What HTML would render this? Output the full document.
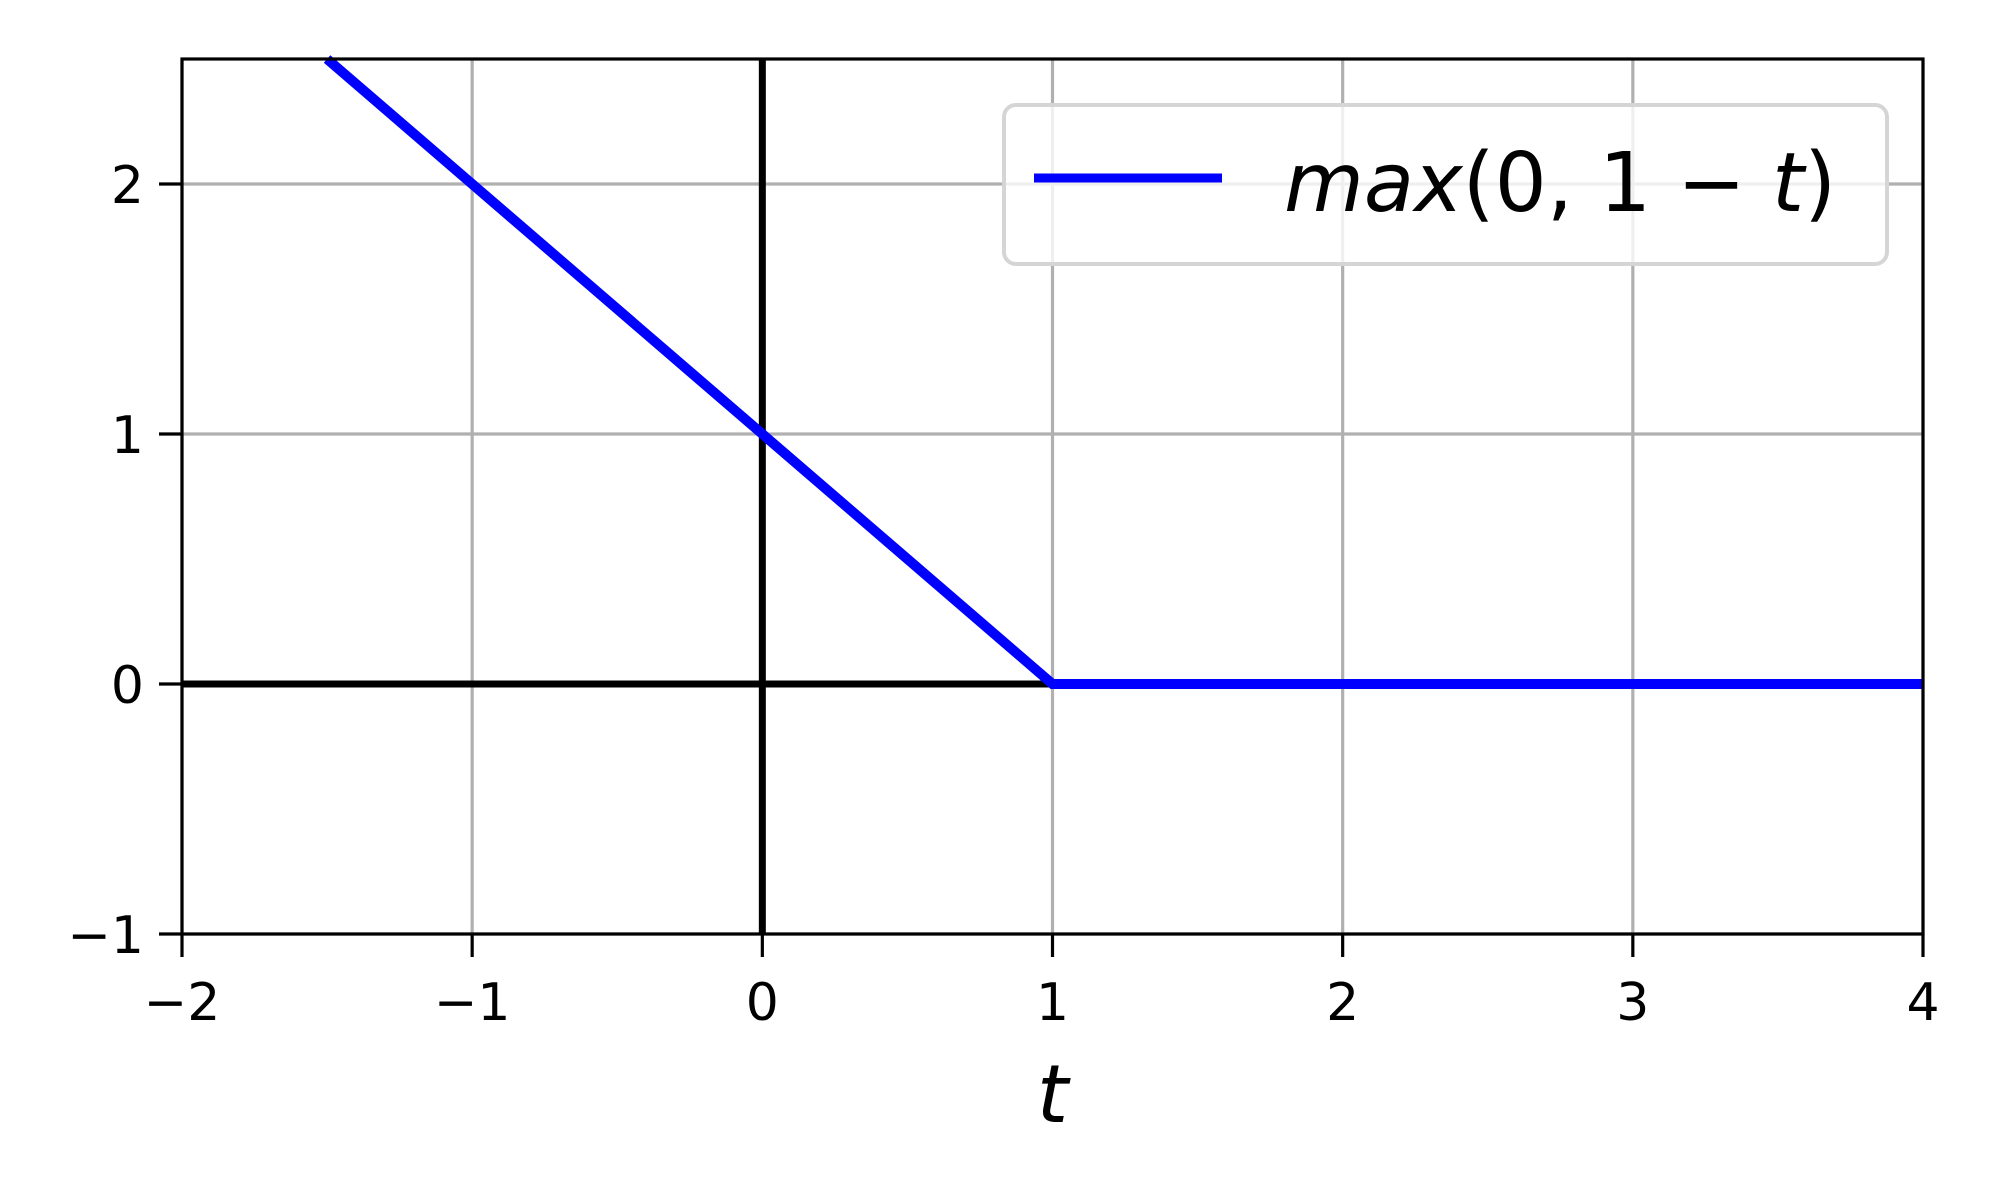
<!DOCTYPE html>
<html><head><meta charset="utf-8"><style>
html,body{margin:0;padding:0;background:#fff;}
svg{display:block;font-family:"DejaVu Sans","Liberation Sans",sans-serif;}
</style></head><body>
<svg id="chart" width="2000" height="1200" viewBox="0 0 2000 1200" xmlns="http://www.w3.org/2000/svg"></svg>
<script>
const xTicks = [-2, -1, 0, 1, 2, 3, 4];
const xTickLabels = ["\u22122", "\u22121", "0", "1", "2", "3", "4"];
const yTicks = [-1, 0, 1, 2];
const yTickLabels = ["\u22121", "0", "1", "2"];
const lineT = [-1.5, 1, 4];
const lineY = [2.5, 0, 0];
const xMin = -2, xMax = 4, yMin = -1, yMax = 2.5;

const L = 182, R = 1923, T = 59, B = 934;
function sx(v){ return L + (v - xMin) / (xMax - xMin) * (R - L); }
function sy(v){ return B - (v - yMin) / (yMax - yMin) * (B - T); }
const svg = document.getElementById('chart');
const NS = 'http://www.w3.org/2000/svg';
function mk(tag, attrs, parent){
  const e = document.createElementNS(NS, tag);
  for (const k in attrs) e.setAttribute(k, attrs[k]);
  (parent || svg).appendChild(e);
  return e;
}
const grid = mk('g', {});


xTicks.forEach(v => {
  const l = mk('line', {x1: sx(v), x2: sx(v), y1: T, y2: B, stroke: '#b0b0b0', 'stroke-width': 3.2}, grid);
  
  
});
yTicks.forEach(v => {
  const l = mk('line', {x1: L, x2: R, y1: sy(v), y2: sy(v), stroke: '#b0b0b0', 'stroke-width': 3.2}, grid);
  
  
});
const ax = mk('line', {x1: L, x2: R, y1: sy(0), y2: sy(0), stroke: '#000', 'stroke-width': 7});


const ay = mk('line', {x1: sx(0), x2: sx(0), y1: T, y2: B, stroke: '#000', 'stroke-width': 7});


const pts = lineT.map((t, i) => sx(t) + ',' + sy(lineY[i])).join(' ');
const pl = mk('polyline', {points: pts, fill: 'none', stroke: '#0000ff', 'stroke-width': 10});


const sp = mk('rect', {x: L, y: T, width: R - L, height: B - T, fill: 'none', stroke: '#000', 'stroke-width': 3.2});


xTicks.forEach((v, i) => {
  const tk = mk('line', {x1: sx(v), x2: sx(v), y1: B, y2: B + 23, stroke: '#000', 'stroke-width': 3.2});
  
  
  const tx = mk('text', {x: sx(v), y: 1020, 'text-anchor': 'middle', 'font-size': 52});
  tx.textContent = xTickLabels[i];
  
  
});
yTicks.forEach((v, i) => {
  const tk = mk('line', {x1: L - 23, x2: L, y1: sy(v), y2: sy(v), stroke: '#000', 'stroke-width': 3.2});
  
  
  const tx = mk('text', {x: L - 38, y: sy(v) + 19, 'text-anchor': 'end', 'font-size': 52});
  tx.textContent = yTickLabels[i];
  
  
});
const xl = mk('text', {x: sx(1), y: 1122, 'text-anchor': 'middle', 'font-size': 80, 'font-style': 'italic'});
xl.textContent = 't';


const lg = mk('g', {});


mk('rect', {x: 1004, y: 105, width: 883, height: 159, rx: 12, fill: 'rgba(255,255,255,0.8)', stroke: '#d5d5d5', 'stroke-width': 4}, lg);
const ll = mk('line', {x1: 1034, x2: 1222, y1: 178, y2: 178, stroke: '#0000ff', 'stroke-width': 9}, lg);


const lt = mk('text', {x: 1284, y: 211, 'font-size': 82}, lg);


lt.innerHTML = '<tspan font-style="italic">max</tspan>(0, 1 \u2212 <tspan font-style="italic">t</tspan>)';
</script>
</body></html>
